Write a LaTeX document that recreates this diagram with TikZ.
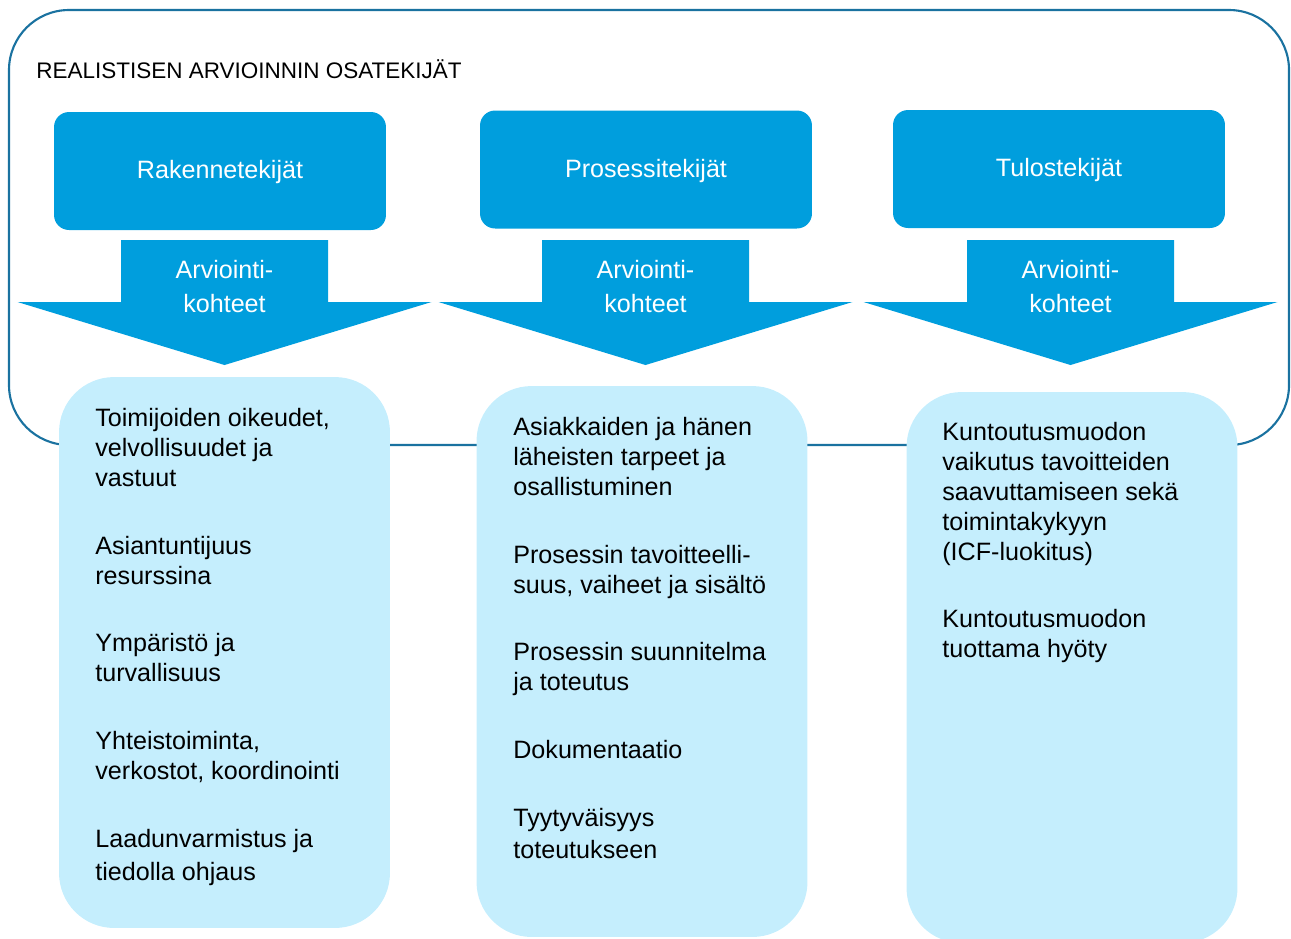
\documentclass[tikz,border=0pt]{standalone}
\usepackage{fontspec}
\setmainfont{Liberation Sans}
\usepackage{xcolor}
\usetikzlibrary{positioning,calc}
\definecolor{frameblue}{HTML}{1A72A0}
\definecolor{headblue}{HTML}{009EDD}
\definecolor{paleblue}{HTML}{C5EEFD}

\begin{document}
\begin{tikzpicture}[x=0.02cm,y=-0.02cm,
    head/.style={fill=headblue,draw=none,rounded corners=0.3cm,minimum width=6.64cm,minimum height=2.36cm,
        text=white,text height=1.05em,text depth=0.17em,font=\fontsize{14.3}{17}\selectfont},
    target/.style={fill=paleblue,draw=none,rounded corners=1.1cm,minimum width=6.62cm,minimum height=11.02cm},
    items/.style={anchor=north west,inner sep=0pt,align=left,font=\fontsize{14.3}{17}\selectfont},
    arrowtext/.style={anchor=north,inner sep=0pt,text=white,align=center,font=\fontsize{14.3}{19.3}\selectfont}]
    \useasboundingbox (0,0) rectangle (1291,938);
    \draw[frameblue,line width=1.2pt,rounded corners=1.2cm] (9,10) rectangle (1289,445);
    \node[anchor=base west,inner sep=0pt,font=\fontsize{12.8}{15}\selectfont] (title) at (36,78) {REALISTISEN ARVIOINNIN OSATEKIJÄT};

    \node[head] (rak) at (220,171) {Rakennetekijät};
    \node[head] (pros) at (646,169.5) {Prosessitekijät};
    \node[head] (tulos) at (1059,169) {Tulostekijät};

    \foreach \cx/\nm in {224.5/rak,645.5/pros,1070.5/tulos}{
        \fill[headblue] ({\cx-103.5},240) -- ({\cx+103.5},240) -- ({\cx+103.5},302) -- ({\cx+207},302)
            -- (\cx,365) -- ({\cx-207},302) -- ({\cx-103.5},302) -- cycle;
        \node[arrowtext] (arr-\nm) at (\cx,260) {Arviointi-\\kohteet};
    }

    \node[target] (kohde-rak) at (224.5,652.5) {};
    \node[target] (kohde-pros) at (642,661.5) {};
    \node[target] (kohde-tulos) at (1072,667.5) {};

    \node[items] (txt-rak) at (95,408) {Toimijoiden oikeudet,\\velvollisuudet ja\\vastuut\\[0.76cm]
        Asiantuntijuus\\resurssina\\[0.76cm]
        Ympäristö ja\\turvallisuus\\[0.76cm]
        Yhteistoiminta,\\verkostot, koordinointi\\[0.76cm]
        Laadunvarmistus ja\\[0.06cm]tiedolla ohjaus};
    \node[items] (txt-pros) at (513,417) {Asiakkaiden ja hänen\\läheisten tarpeet ja\\osallistuminen\\[0.76cm]
        Prosessin tavoitteelli-\\suus, vaiheet ja sisältö\\[0.76cm]
        Prosessin suunnitelma\\ja toteutus\\[0.76cm]
        Dokumentaatio\\[0.76cm]
        Tyytyväisyys\\[0.04cm]toteutukseen};
    \node[items] (txt-tulos) at (942,422) {Kuntoutusmuodon\\vaikutus tavoitteiden\\saavuttamiseen sekä\\toimintakykyyn\\(ICF-luokitus)\\[0.76cm]
        Kuntoutusmuodon\\tuottama hyöty};
\end{tikzpicture}
\end{document}
